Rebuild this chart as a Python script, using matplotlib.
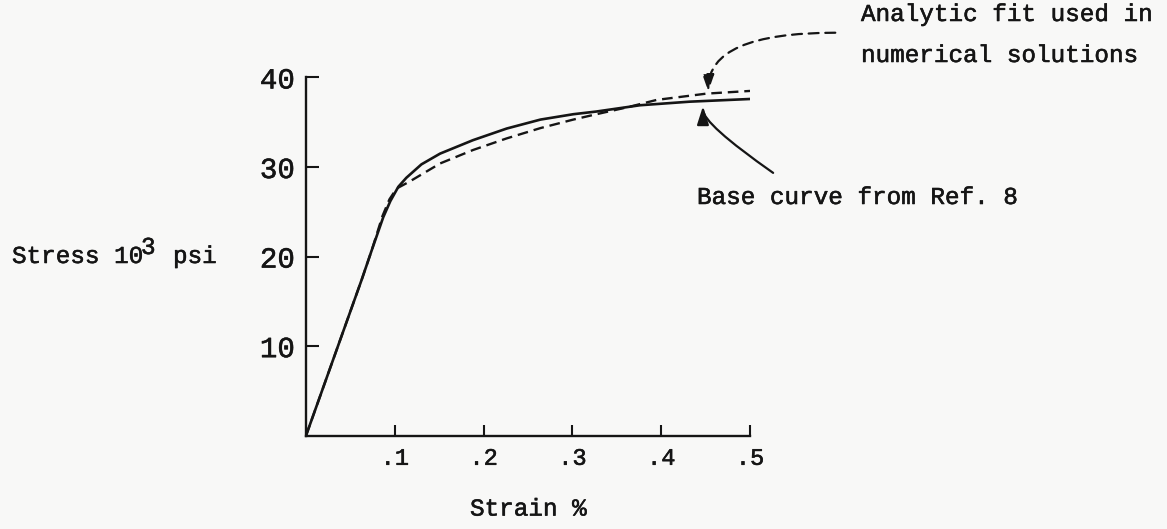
import matplotlib
matplotlib.use("Agg")
import matplotlib.pyplot as plt
import matplotlib.patheffects as pe

plt.rcParams["font.family"] = ["Liberation Mono", "DejaVu Sans Mono"]

# Base stress-strain curve (Ref. 8)
strain_base = [0.0, 0.036, 0.063, 0.074, 0.087, 0.095, 0.104, 0.113, 0.130,
               0.151, 0.188, 0.226, 0.264, 0.301, 0.327, 0.376, 0.432, 0.50]
stress_base = [0.0, 10.0, 17.5, 20.7, 24.4, 26.2, 27.8, 28.8, 30.3,
               31.5, 33.0, 34.3, 35.3, 35.9, 36.2, 36.9, 37.3, 37.6]

# Analytic fit used in the numerical solutions
strain_fit = [0.0, 0.036, 0.063, 0.074, 0.086, 0.094, 0.102, 0.117, 0.151,
              0.188, 0.226, 0.264, 0.301, 0.327, 0.363, 0.395, 0.451, 0.50]
stress_fit = [0.0, 10.0, 17.5, 20.7, 24.5, 26.4, 27.6, 28.4, 30.4,
              31.9, 33.2, 34.35, 35.3, 35.9, 36.7, 37.5, 38.2, 38.5]

xticks = [0.1, 0.2, 0.3, 0.4, 0.5]
xtick_labels = [".1", ".2", ".3", ".4", ".5"]
yticks = [10, 20, 30, 40]
ytick_labels = ["10", "20", "30", "40"]

bg = "#f8f8f7"
ink = "#151515"
ink_fx = [pe.withStroke(linewidth=0.4, foreground=ink)]
txt = dict(fontsize=17.5, color=ink, va="baseline", ha="left", path_effects=ink_fx)

fig = plt.figure(figsize=(11.67, 5.29), dpi=100, facecolor=bg)
ax = fig.add_axes([0.2622, 0.1764, 0.6427 - 0.2622, 0.8535 - 0.1764])
ax.set_facecolor(bg)

ax.plot(strain_base, stress_base, color=ink, lw=1.9, solid_capstyle="round",
        solid_joinstyle="round")
ax.plot(strain_fit, stress_fit, color=ink, lw=1.7, ls=(0, (4.5, 2.5)))

ax.set_xlim(0, 0.5)
ax.set_ylim(0, 40)
for side in ("top", "right"):
    ax.spines[side].set_visible(False)
for side in ("left", "bottom"):
    ax.spines[side].set_linewidth(1.7)
    ax.spines[side].set_color(ink)

ax.set_xticks(xticks)
ax.set_xticklabels(xtick_labels, fontsize=17)
ax.set_yticks(yticks)
ax.set_yticklabels(ytick_labels, fontsize=21)
for lab in ax.get_xticklabels() + ax.get_yticklabels():
    lab.set_path_effects(ink_fx)
ax.tick_params(axis="x", direction="in", length=8, width=1.5, pad=8, colors=ink)
ax.tick_params(axis="y", direction="in", length=9, width=1.5, pad=8, colors=ink)

ax.set_xlabel("Strain %", fontsize=17.5, labelpad=20, color=ink, path_effects=ink_fx)

# y-axis caption with a full-size raised exponent
fig.text(12 / 1167, 1 - 263 / 529, "Stress 10", **txt)
fig.text(141 / 1167, 1 - 254 / 529, "3", **txt)
fig.text(173 / 1167, 1 - 263 / 529, "psi", **txt)

# Callout for the analytic fit (dashed leader)
fig.text(861 / 1167, 1 - 21 / 529, "Analytic fit used in", **txt)
fig.text(861 / 1167, 1 - 62 / 529, "numerical solutions", **txt)
ax.annotate("", xy=(0.453, 38.45), xytext=(0.596, 45.0),
            annotation_clip=False,
            arrowprops=dict(arrowstyle="-|>,head_length=1.0,head_width=0.35",
                            connectionstyle="angle3,angleA=0,angleB=90",
                            color=ink, lw=1.6, ls=(0, (4.5, 3)),
                            shrinkA=0, shrinkB=0))

# Callout for the base curve (solid leader)
fig.text(697 / 1167, 1 - 204 / 529, "Base curve from Ref. 8", **txt)
ax.annotate("", xy=(0.447, 36.8), xytext=(0.526, 29.35),
            annotation_clip=False,
            arrowprops=dict(arrowstyle="-|>,head_length=1.1,head_width=0.35",
                            connectionstyle="angle3,angleA=145,angleB=90",
                            color=ink, lw=1.6,
                            shrinkA=0, shrinkB=0))

fig.savefig("out.png", dpi=100, facecolor=bg)
